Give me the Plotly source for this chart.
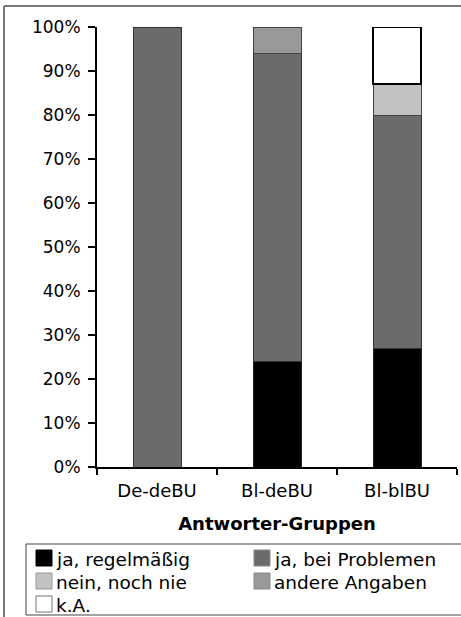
import plotly.graph_objects as go

groups = ["De-deBU", "Bl-deBU", "Bl-blBU"]
series_names = ["ja, regelmäßig", "ja, bei Problemen", "nein, noch nie", "andere Angaben", "k.A."]
ja_regelmaessig = [None, 24, 27]
ja_bei_problemen = [100, 70, 53]
nein_noch_nie = [None, None, 7]
andere_angaben = [None, 6, None]
keine_angabe = [None, None, 13]
y_ticks = [0, 10, 20, 30, 40, 50, 60, 70, 80, 90, 100]
y_tick_labels = [f"{v}%" for v in y_ticks]

series_values = [ja_regelmaessig, ja_bei_problemen, nein_noch_nie, andere_angaben, keine_angabe]
fills = ["#000000", "#6b6b6b", "#c2c2c2", "#999999", "#ffffff"]
edges = ["#222222", "#333333", "#444444", "#444444", "#000000"]
edge_w = [1, 1, 1, 1, 2]
key_edges = ["#000000", "#888888", "#999999", "#888888", "#777777"]

W, H = 461, 617
L, R, T, B = 97, 4, 27, 150
PW, PH = W - L - R, H - T - B

def px(x):
    return (x - L) / PW

def py(y):
    return (H - B - y) / PH

FONT = "DejaVu Sans"

fig = go.Figure()
for name, vals, c, e, w in zip(series_names, series_values, fills, edges, edge_w):
    fig.add_trace(go.Bar(
        x=groups, y=vals, name=name, width=0.4,
        marker=dict(color=c, line=dict(color=e, width=w)),
        showlegend=False,
    ))

# frame around the figure and the key box below the axis title
shapes = [
    dict(type="line", xref="paper", yref="paper", x0=px(4), x1=px(470), y0=py(6), y1=py(6),
         line=dict(color="#777777", width=2)),
    dict(type="line", xref="paper", yref="paper", x0=px(4), x1=px(4), y0=py(6), y1=py(630),
         line=dict(color="#777777", width=2)),
    dict(type="rect", xref="paper", yref="paper", x0=px(26), x1=px(475), y0=py(544), y1=py(615),
         line=dict(color="#444444", width=1)),
]
annotations = []

# two-column key: swatch + label for each series
for i, (name, c, ke) in enumerate(zip(series_names, fills, key_edges)):
    col, row = i % 2, i // 2
    sx = 36 + col * 218
    cy = 558 + row * 23
    shapes.append(dict(type="rect", xref="paper", yref="paper",
                       x0=px(sx), x1=px(sx + 16), y0=py(cy - 8), y1=py(cy + 8),
                       fillcolor=c, line=dict(color=ke, width=1)))
    annotations.append(dict(xref="paper", yref="paper", x=px(sx + 19), y=py(cy + 1),
                            xanchor="left", yanchor="middle", showarrow=False, borderpad=0,
                            text=name, font=dict(family=FONT, size=18.5, color="black")))

fig.update_layout(
    width=W, height=H,
    margin=dict(l=L, r=R, t=T, b=B, autoexpand=False),
    barmode="stack",
    plot_bgcolor="white", paper_bgcolor="white",
    font=dict(family=FONT, size=17, color="black"),
    xaxis=dict(
        showline=True, linecolor="black", linewidth=2,
        ticks="outside", ticklen=6, tickwidth=2, tickcolor="black",
        tickson="boundaries", showgrid=False, ticklabelstandoff=6,
        tickfont=dict(size=18),
        title=dict(text="<b>Antworter-Gruppen</b>", font=dict(size=18), standoff=18),
    ),
    yaxis=dict(
        range=[0, 100], tickvals=y_ticks, ticktext=y_tick_labels,
        showline=True, linecolor="black", linewidth=2,
        ticks="outside", ticklen=7, tickwidth=2, tickcolor="black",
        showgrid=False, zeroline=False, tickfont=dict(size=17), ticklabelstandoff=4,
    ),
    showlegend=False,
    shapes=shapes,
    annotations=annotations,
)

fig.write_html("out.html")
